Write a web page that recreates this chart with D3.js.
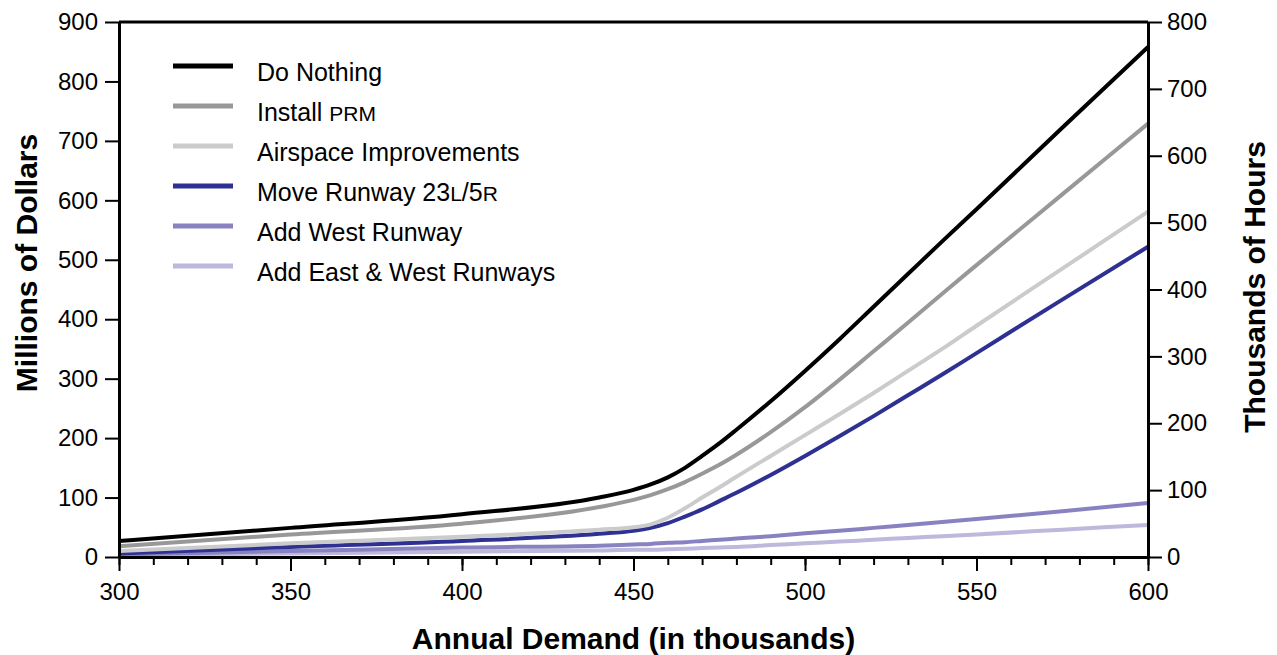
<!DOCTYPE html>
<html>
<head>
<meta charset="utf-8">
<script src="https://cdn.jsdelivr.net/npm/d3@7"></script>
<style>
  body { margin: 0; background: #fff; }
  svg { font-family: "Liberation Sans", Arial, sans-serif; }
  .axis path, .axis line { stroke: #000; }
  .axis text { font-size: 24px; fill: #000; }
  .axis-title { font-size: 30px; font-weight: bold; }
  .legend text { font-size: 25px; }
</style>
</head>
<body>
<script>
// Annual demand (thousands) -> delay cost (millions of dollars)
const demand = [300, 350, 400, 440, 450, 455, 460, 465, 470, 475, 480, 490, 500, 510, 520, 530, 540, 550, 575, 600];

const doNothing   = [27, 49, 72, 100, 113, 122, 134, 150, 170, 191, 214, 262, 313, 366, 421, 476, 531, 585, 722, 858];
const installPrm  = [18, 38, 56, 84, 96, 104, 114, 126, 140, 155, 172, 210, 252, 298, 346, 394, 443, 491, 610, 729];
const airspace    = [10, 23, 34, 46, 50, 55, 66, 82, 100, 117, 135, 170, 205, 240, 276, 313, 350, 389, 485, 581];
const moveRunway  = [6, 17, 27, 39, 44, 49, 57, 68, 80, 94, 108, 138, 170, 203, 237, 272, 307, 343, 433, 522];
const addWest     = [4, 10, 16, 19, 21, 22, 24, 25, 27, 29, 31, 35, 40, 44, 49, 54, 59, 64, 77, 91];
const addEastWest = [3, 6, 9, 11, 12, 12, 13, 14, 15, 16, 17, 20, 23, 26, 29, 32, 35, 38, 46, 54];

const seriesNames = ["Do Nothing", "Install PRM", "Airspace Improvements",
                     "Move Runway 23L/5R", "Add West Runway", "Add East & West Runways"];
const seriesValues = [doNothing, installPrm, airspace, moveRunway, addWest, addEastWest];
const seriesColors = ["#000000", "#98989a", "#cbcbcb", "#2e3192", "#8883c0", "#bdb8dc"];

const xTicks = [300, 350, 400, 450, 500, 550, 600];
const leftTicks = d3.range(0, 901, 100);
const rightTicks = d3.range(0, 801, 100);

const width = 1277, height = 655;
const x0 = 119, x1 = 1148, yTop = 22, yBot = 557;

const svg = d3.select("body").append("svg")
  .attr("width", width)
  .attr("height", height);

const x = d3.scaleLinear().domain([300, 600]).range([x0, x1]);
const yL = d3.scaleLinear().domain([0, 900]).range([yBot, yTop]);
const yR = d3.scaleLinear().domain([0, 800]).range([yBot, yTop]);

const line = d3.line()
  .x(d => x(d[0]))
  .y(d => yL(d[1]))
  .curve(d3.curveMonotoneX);

// draw lightest at the back
for (let i = seriesValues.length - 1; i >= 0; i--) {
  svg.append("path")
     .datum(demand.map((v, j) => [v, seriesValues[i][j]]))
     .attr("fill", "none")
     .attr("stroke", seriesColors[i])
     .attr("stroke-width", 4)
     .attr("d", line);
}

// top frame line
svg.append("line")
   .attr("x1", x0).attr("x2", x1)
   .attr("y1", yTop).attr("y2", yTop)
   .attr("stroke", "#000").attr("stroke-width", 3);

// x axis: minor ticks then major ticks
const xMinor = d3.axisBottom(x)
  .tickValues(d3.range(300, 601, 10))
  .tickSize(8)
  .tickFormat("");
svg.append("g")
   .attr("class", "axis")
   .attr("transform", `translate(0,${yBot})`)
   .call(xMinor)
   .call(g => g.select(".domain").remove())
   .selectAll("line").attr("stroke-width", 2);

const xAxis = d3.axisBottom(x)
  .tickValues(xTicks)
  .tickSize(14)
  .tickSizeOuter(0)
  .tickPadding(12);
svg.append("g")
   .attr("class", "axis")
   .attr("transform", `translate(0,${yBot})`)
   .call(xAxis)
   .call(g => g.select(".domain").attr("stroke-width", 3))
   .call(g => g.selectAll("line").attr("stroke-width", 2));

const yAxisL = d3.axisLeft(yL)
  .tickValues(leftTicks)
  .tickSize(14)
  .tickSizeOuter(0)
  .tickPadding(7);
svg.append("g")
   .attr("class", "axis")
   .attr("transform", `translate(${x0},0)`)
   .call(yAxisL)
   .call(g => g.select(".domain").attr("stroke-width", 3))
   .call(g => g.selectAll("line").attr("stroke-width", 2));

const yAxisR = d3.axisRight(yR)
  .tickValues(rightTicks)
  .tickSize(14)
  .tickSizeOuter(0)
  .tickPadding(5);
svg.append("g")
   .attr("class", "axis")
   .attr("transform", `translate(${x1},0)`)
   .call(yAxisR)
   .call(g => g.select(".domain").attr("stroke-width", 3))
   .call(g => g.selectAll("line").attr("stroke-width", 2));

// axis titles
svg.append("text")
   .attr("class", "axis-title")
   .attr("x", (x0 + x1) / 2)
   .attr("y", 649)
   .attr("text-anchor", "middle")
   .text("Annual Demand (in thousands)");

svg.append("text")
   .attr("class", "axis-title")
   .attr("transform", "translate(37,263) rotate(-90)")
   .attr("text-anchor", "middle")
   .text("Millions of Dollars");

svg.append("text")
   .attr("class", "axis-title")
   .attr("transform", "translate(1265,287) rotate(-90)")
   .attr("text-anchor", "middle")
   .text("Thousands of Hours");

// legend
const legend = svg.append("g").attr("class", "legend");
seriesNames.forEach((name, i) => {
  let ly = 66 + i * 40;
  legend.append("line")
        .attr("x1", 173).attr("x2", 233)
        .attr("y1", ly).attr("y2", ly)
        .attr("stroke", seriesColors[i])
        .attr("stroke-width", 5);
  let t = legend.append("text")
        .attr("x", 257)
        .attr("y", ly + 15);
  // small caps for the abbreviations
  let parts = name.match(/PRM|23L\/5R|[^]+?(?=PRM|23L\/5R|$)/g);
  parts.forEach(p => {
    if (p == "PRM") {
      t.append("tspan").attr("font-size", 21).text(p);
    } else if (p == "23L/5R") {
      t.append("tspan").text("23");
      t.append("tspan").attr("font-size", 21).text("L");
      t.append("tspan").text("/5");
      t.append("tspan").attr("font-size", 21).text("R");
    } else {
      t.append("tspan").text(p);
    }
  });
});
</script>
</body>
</html>
